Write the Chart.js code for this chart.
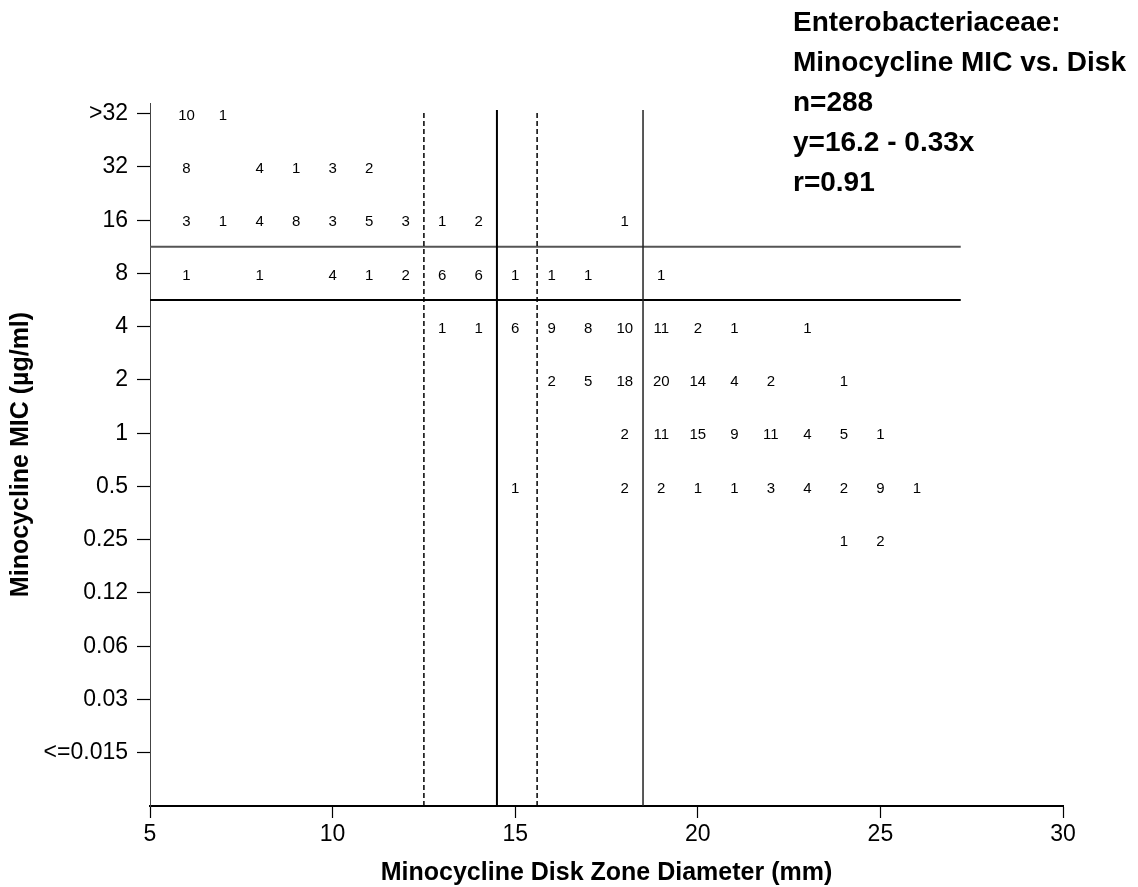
<!DOCTYPE html>
<html>
<head>
<meta charset="utf-8">
<title>Enterobacteriaceae: Minocycline MIC vs. Disk</title>
<script src="https://cdn.jsdelivr.net/npm/chart.js@4.4.1/dist/chart.umd.min.js"></script>
<style>
    html, body { margin: 0; padding: 0; background: #fff; }
    #wrap { width: 1138px; height: 887px; }
</style>
</head>
<body>
<div id="wrap"><canvas id="scatter_chart"></canvas></div>
<script>
// MIC categories, bottom to top
const micLabels = ['<=0.015', '0.03', '0.06', '0.12', '0.25', '0.5', '1', '2', '4', '8', '16', '32', '>32'];
// disk zone columns (mm)
const zones = [6, 7, 8, 9, 10, 11, 12, 13, 14, 15, 16, 17, 18, 19, 20, 21, 22, 23, 24, 25, 26];
const xTicks = [5, 10, 15, 20, 25, 30];

// isolate counts per MIC row, one value per zone (6..26)
const countsGt32 = [10, 1, 0, 0, 0, 0, 0, 0, 0, 0, 0, 0, 0, 0, 0, 0, 0, 0, 0, 0, 0];
const counts32   = [8, 0, 4, 1, 3, 2, 0, 0, 0, 0, 0, 0, 0, 0, 0, 0, 0, 0, 0, 0, 0];
const counts16   = [3, 1, 4, 8, 3, 5, 3, 1, 2, 0, 0, 0, 1, 0, 0, 0, 0, 0, 0, 0, 0];
const counts8    = [1, 0, 1, 0, 4, 1, 2, 6, 6, 1, 1, 1, 0, 1, 0, 0, 0, 0, 0, 0, 0];
const counts4    = [0, 0, 0, 0, 0, 0, 0, 1, 1, 6, 9, 8, 10, 11, 2, 1, 0, 1, 0, 0, 0];
const counts2    = [0, 0, 0, 0, 0, 0, 0, 0, 0, 0, 2, 5, 18, 20, 14, 4, 2, 0, 1, 0, 0];
const counts1    = [0, 0, 0, 0, 0, 0, 0, 0, 0, 0, 0, 0, 2, 11, 15, 9, 11, 4, 5, 1, 0];
const counts05   = [0, 0, 0, 0, 0, 0, 0, 0, 0, 1, 0, 0, 2, 2, 1, 1, 3, 4, 2, 9, 1];
const counts025  = [0, 0, 0, 0, 0, 0, 0, 0, 0, 0, 0, 0, 0, 0, 0, 0, 0, 0, 1, 2, 0];

// interpretive breakpoints
const zoneBreaksSolid = [14.5, 18.5];
const zoneBreaksDashed = [12.5, 15.6];
const micBreakUpper = 9.5;   // between 8 and 16
const micBreakLower = 8.5;   // between 4 and 8
const micBreakEnd = 27.2;

const headerLines = ['Enterobacteriaceae:', 'Minocycline MIC vs. Disk', 'n=288', 'y=16.2 - 0.33x', 'r=0.91'];
const xTitle = 'Minocycline Disk Zone Diameter (mm)';

const FONT = "'Liberation Sans', Arial, Helvetica, sans-serif";

const rows = [
    ['>32', countsGt32], ['32', counts32], ['16', counts16], ['8', counts8], ['4', counts4],
    ['2', counts2], ['1', counts1], ['0.5', counts05], ['0.25', counts025]
];
const cells = [];
rows.forEach(([mic, arr]) => {
    const yi = micLabels.indexOf(mic);
    arr.forEach((n, i) => {
        if (n > 0) cells.push({ x: zones[i], y: yi, n: n });
    });
});

function vLine(x, dashed, width, color) {
    return {
        type: 'line', data: [{ x: x, y: -1 }, { x: x, y: 12.07 }],
        borderColor: color, borderWidth: width, borderDash: dashed ? [5, 3] : [],
        pointRadius: 0, fill: false
    };
}
function hLine(y, width, color) {
    return {
        type: 'line', data: [{ x: 5, y: y }, { x: micBreakEnd, y: y }],
        borderColor: color, borderWidth: width, pointRadius: 0, fill: false
    };
}

const cellText = {
    id: 'cellText',
    afterDatasetsDraw(chart) {
        const ctx = chart.ctx;
        const meta = chart.getDatasetMeta(0);
        ctx.save();
        ctx.fillStyle = '#000';
        ctx.font = '15px ' + FONT;
        ctx.textAlign = 'center';
        ctx.textBaseline = 'middle';
        meta.data.forEach((el, i) => {
            ctx.fillText(String(cells[i].n), el.x, el.y + 2);
        });
        ctx.restore();
    }
};

const extraText = {
    id: 'extraText',
    afterDraw(chart) {
        const ctx = chart.ctx;
        const area = chart.chartArea;
        ctx.save();
        ctx.fillStyle = '#000';
        ctx.font = 'bold 28px ' + FONT;
        ctx.textAlign = 'left';
        ctx.textBaseline = 'alphabetic';
        headerLines.forEach((t, i) => ctx.fillText(t, 793, 31 + i * 40));
        ctx.font = 'bold 25px ' + FONT;
        ctx.textAlign = 'center';
        ctx.textBaseline = 'middle';
        ctx.fillText(xTitle, (area.left + area.right) / 2, 873);
        ctx.restore();
    }
};

const ctx = document.getElementById('scatter_chart').getContext('2d');
new Chart(ctx, {
    type: 'scatter',
    data: {
        datasets: [
            { data: cells, pointRadius: 0, pointHoverRadius: 0 },
            vLine(zoneBreaksDashed[0], true, 1.5, '#000'),
            vLine(zoneBreaksSolid[0], false, 2, '#000'),
            vLine(zoneBreaksDashed[1], true, 1.5, '#000'),
            vLine(zoneBreaksSolid[1], false, 1.5, '#222'),
            hLine(micBreakUpper, 2, '#555'),
            hLine(micBreakLower, 2, '#000')
        ]
    },
    options: {
        responsive: true,
        maintainAspectRatio: false,
        animation: false,
        layout: { padding: { top: 103, right: 75, left: 0, bottom: 0 } },
        plugins: { legend: { display: false }, tooltip: { enabled: false } },
        scales: {
            x: {
                type: 'linear', min: 5, max: 30,
                afterBuildTicks: (s) => { s.ticks = xTicks.map(v => ({ value: v })); },
                afterFit: (s) => { s.height = 81; },
                grid: { drawOnChartArea: false, drawTicks: true, tickLength: 12, tickColor: '#000', tickWidth: 1.2 },
                border: { display: true, color: '#000', width: 2 },
                ticks: { color: '#000', padding: 3, maxRotation: 0, font: { family: FONT, size: 23 } },
                title: { display: false }
            },
            y: {
                type: 'linear', min: -1, max: 12.2,
                afterBuildTicks: (s) => { s.ticks = micLabels.map((_, i) => ({ value: i })); },
                afterFit: (s) => { s.width = 150; },
                grid: { drawOnChartArea: false, drawTicks: true, tickLength: 13, tickColor: '#000', tickWidth: 1.2 },
                border: { display: true, color: '#444', width: 1 },
                ticks: {
                    color: '#000', padding: 9, font: { family: FONT, size: 23 },
                    callback: (v) => micLabels[v]
                },
                title: {
                    display: true, text: 'Minocycline MIC (µg/ml)', color: '#000',
                    font: { family: FONT, size: 25, weight: 'bold' }, padding: { top: 6, bottom: 0 }
                }
            }
        }
    },
    plugins: [cellText, extraText]
});
</script>
</body>
</html>
